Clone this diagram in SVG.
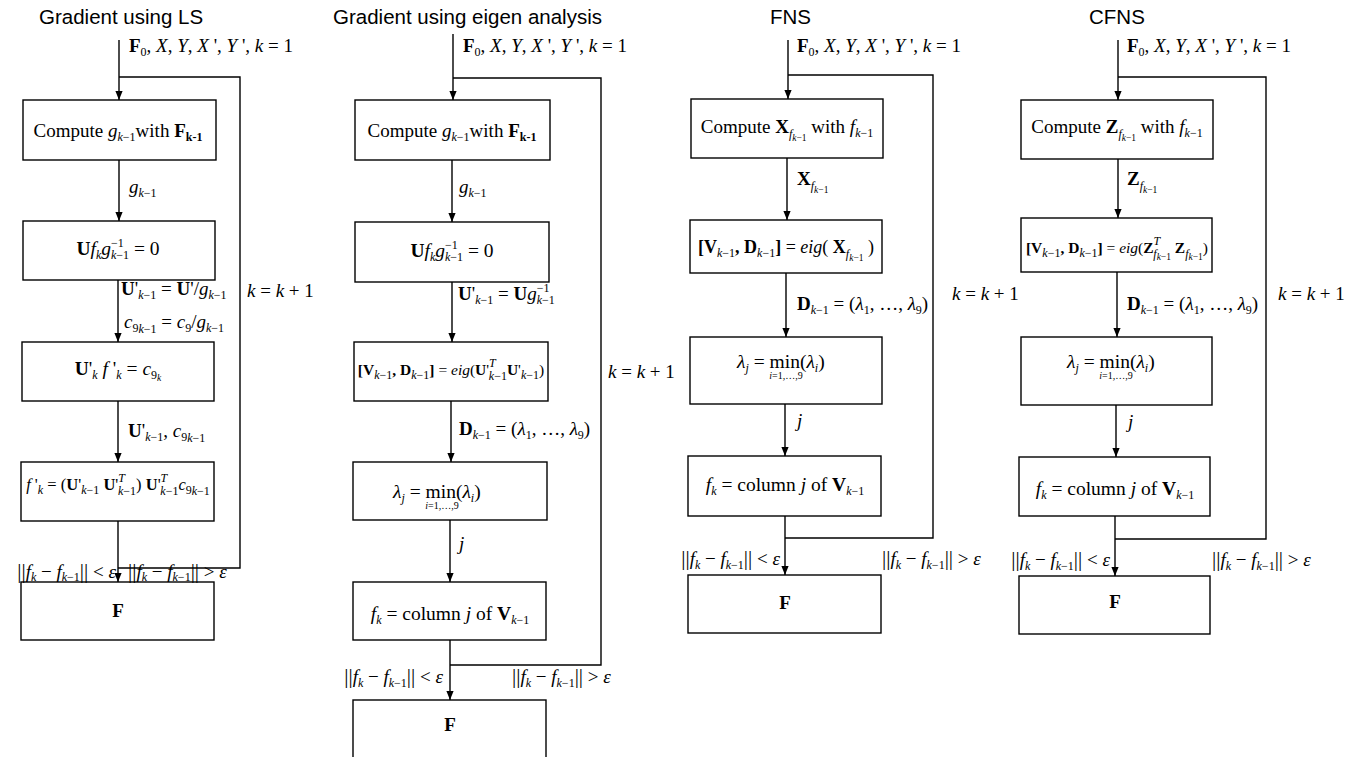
<svg xmlns="http://www.w3.org/2000/svg" width="1354" height="757" viewBox="0 0 1354 757">
<style>
.t{font-family:"Liberation Serif","DejaVu Serif",serif;font-size:19px;fill:#000}
.c{font-size:19.5px}
.m{font-size:16.5px}
.m2{font-size:15.5px}
.m3{font-size:18px}
.h{font-family:"Liberation Sans",Arial,sans-serif;font-size:20.5px;fill:#000}
.i{font-style:italic}
.b{font-weight:bold}
.s{font-size:12px}
.ss{font-size:9.5px}
.xs{font-size:10px}
.bar{font-size:21px}
.box{fill:#fff;stroke:#000;stroke-width:1.4}
.ln{fill:none;stroke:#000;stroke-width:1.4}
</style>
<defs>
<marker id="ah" viewBox="0 0 10 10" refX="10" refY="5" markerWidth="9" markerHeight="9" markerUnits="userSpaceOnUse" orient="auto"><path d="M0,1 L10,5 L0,9 z" fill="#000"/></marker>
</defs>
<rect width="1354" height="757" fill="#fff"/>

<g id="titles">
<text class="h" x="39" y="24">Gradient using LS</text>
<text class="h" x="333" y="24">Gradient using eigen analysis</text>
<text class="h" x="770" y="24">FNS</text>
<text class="h" x="1089" y="24">CFNS</text>
</g>

<g id="connectors">
<path class="ln" d="M119,40 V100" marker-end="url(#ah)"/>
<path class="ln" d="M119,160 V221" marker-end="url(#ah)"/>
<path class="ln" d="M118,280 V342" marker-end="url(#ah)"/>
<path class="ln" d="M118,401 V462" marker-end="url(#ah)"/>
<path class="ln" d="M118,521 V582" marker-end="url(#ah)"/>
<path class="ln" d="M118,568 H240 V77 H119"/>

<path class="ln" d="M453,34 V100" marker-end="url(#ah)"/>
<path class="ln" d="M452,160 V222" marker-end="url(#ah)"/>
<path class="ln" d="M452,282 V342" marker-end="url(#ah)"/>
<path class="ln" d="M451,401 V462" marker-end="url(#ah)"/>
<path class="ln" d="M450,520 V582" marker-end="url(#ah)"/>
<path class="ln" d="M450,640 V700" marker-end="url(#ah)"/>
<path class="ln" d="M450,665 H601 V78 H453"/>

<path class="ln" d="M788,40 V99" marker-end="url(#ah)"/>
<path class="ln" d="M787,158 V220" marker-end="url(#ah)"/>
<path class="ln" d="M786,273 V337" marker-end="url(#ah)"/>
<path class="ln" d="M785,404 V456" marker-end="url(#ah)"/>
<path class="ln" d="M785,516 V575" marker-end="url(#ah)"/>
<path class="ln" d="M785,538 H933 V75 H788"/>

<path class="ln" d="M1118,40 V100" marker-end="url(#ah)"/>
<path class="ln" d="M1118,159 V218" marker-end="url(#ah)"/>
<path class="ln" d="M1117,272 V337" marker-end="url(#ah)"/>
<path class="ln" d="M1116,405 V457" marker-end="url(#ah)"/>
<path class="ln" d="M1115,516 V576" marker-end="url(#ah)"/>
<path class="ln" d="M1115,539 H1266 V77 H1118"/>
</g>

<g id="ls-compute">
<rect class="box" x="23" y="100" width="193" height="60"/>
<text class="t" x="118" y="137" text-anchor="middle">Compute <tspan class="i">g</tspan><tspan class="s" dy="4"><tspan class="i">k</tspan>−1</tspan><tspan dy="-4">with </tspan><tspan class="b">F</tspan><tspan class="s b" dy="4">k-1</tspan></text>
</g>
<g id="ls-ufg">
<rect class="box" x="23" y="221" width="192" height="59"/>
<text class="t c" x="118" y="255" text-anchor="middle"><tspan class="b">U</tspan><tspan class="i">f</tspan><tspan class="s i" dy="4">k</tspan><tspan class="i" dy="-4">g</tspan><tspan class="s" dy="-8">−1</tspan><tspan class="s" dx="-12.8" dy="12"><tspan class="i">k</tspan>−1</tspan><tspan dy="-4"> = 0</tspan></text>
</g>
<g id="ls-uf">
<rect class="box" x="22" y="342" width="192" height="59"/>
<text class="t c" x="118" y="375" text-anchor="middle"><tspan class="b">U</tspan>'<tspan class="s i" dy="4">k</tspan><tspan class="i" dy="-4"> f</tspan> '<tspan class="s i" dy="4">k</tspan><tspan dy="-4"> = </tspan><tspan class="i">c</tspan><tspan class="s" dy="4">9</tspan><tspan class="ss i" dy="2">k</tspan></text>
</g>
<g id="ls-solve">
<rect class="box" x="21" y="462" width="193" height="59"/>
<text class="t m" x="118" y="490" text-anchor="middle"><tspan class="i">f</tspan> '<tspan class="s i" dy="4">k</tspan><tspan dy="-4"> = (</tspan><tspan class="b">U</tspan>'<tspan class="s" dy="4"><tspan class="i">k</tspan>−1</tspan><tspan class="b" dy="-4"> U</tspan>'<tspan class="s i" dy="-8">T</tspan><tspan class="s" dx="-7" dy="13"><tspan class="i">k</tspan>−1</tspan><tspan dy="-5">) </tspan><tspan class="b">U</tspan>'<tspan class="s i" dy="-8">T</tspan><tspan class="s" dx="-7" dy="13"><tspan class="i">k</tspan>−1</tspan><tspan class="i" dy="-5">c</tspan><tspan class="s" dy="4">9</tspan><tspan class="s" dy="1"><tspan class="i">k</tspan>−1</tspan></text>
</g>
<g id="ls-F">
<rect class="box" x="21" y="582" width="193" height="58"/>
<text class="t b" x="118" y="617" text-anchor="middle">F</text>
</g>

<g id="eig-compute">
<rect class="box" x="355" y="100" width="195" height="60"/>
<text class="t" x="452" y="137" text-anchor="middle">Compute <tspan class="i">g</tspan><tspan class="s" dy="4"><tspan class="i">k</tspan>−1</tspan><tspan dy="-4">with </tspan><tspan class="b">F</tspan><tspan class="s b" dy="4">k-1</tspan></text>
</g>
<g id="eig-ufg">
<rect class="box" x="355" y="222" width="194" height="60"/>
<text class="t c" x="452" y="257" text-anchor="middle"><tspan class="b">U</tspan><tspan class="i">f</tspan><tspan class="s i" dy="4">k</tspan><tspan class="i" dy="-4">g</tspan><tspan class="s" dy="-8">−1</tspan><tspan class="s" dx="-12.8" dy="12"><tspan class="i">k</tspan>−1</tspan><tspan dy="-4"> = 0</tspan></text>
</g>
<g id="eig-eig">
<rect class="box" x="354" y="342" width="194" height="59"/>
<text class="t m2" x="451" y="375" text-anchor="middle"><tspan class="b">[V</tspan><tspan class="s" dy="4"><tspan class="i">k</tspan>−1</tspan><tspan class="b" dy="-4">, D</tspan><tspan class="s" dy="4"><tspan class="i">k</tspan>−1</tspan><tspan class="b" dy="-4">]</tspan> = <tspan class="i">eig</tspan>(<tspan class="b">U</tspan>'<tspan class="s i" dy="-8">T</tspan><tspan class="s" dx="-7" dy="13"><tspan class="i">k</tspan>−1</tspan><tspan class="b" dy="-5">U</tspan>'<tspan class="s" dy="4"><tspan class="i">k</tspan>−1</tspan><tspan dy="-4">)</tspan></text>
</g>
<g id="eig-min">
<rect class="box" x="353" y="462" width="194" height="58"/>
<text class="t c" x="393" y="498"><tspan class="i">λ</tspan><tspan class="s i" dy="4">j</tspan><tspan dy="-4"> = min(</tspan><tspan class="i">λ</tspan><tspan class="s i" dy="4">i</tspan><tspan dy="-4">)</tspan></text>
<text class="t xs" x="442" y="509" text-anchor="middle"><tspan class="i">i</tspan>=1,…,9</text>
</g>
<g id="eig-col">
<rect class="box" x="353" y="582" width="193" height="58"/>
<text class="t c" x="450" y="620" text-anchor="middle"><tspan class="i">f</tspan><tspan class="s i" dy="4">k</tspan><tspan dy="-4"> = column </tspan><tspan class="i">j</tspan> of <tspan class="b">V</tspan><tspan class="s" dy="4"><tspan class="i">k</tspan>−1</tspan></text>
</g>
<g id="eig-F">
<rect class="box" x="353" y="700" width="193" height="70"/>
<text class="t b" x="450" y="731" text-anchor="middle">F</text>
</g>

<g id="fns-compute">
<rect class="box" x="691" y="99" width="192" height="59"/>
<text class="t" x="787" y="133" text-anchor="middle">Compute <tspan class="b">X</tspan><tspan class="s i" dy="5">f</tspan><tspan class="ss" dy="3"><tspan class="i">k</tspan>−1</tspan><tspan dy="-8"> with </tspan><tspan class="i">f</tspan><tspan class="s" dy="4"><tspan class="i">k</tspan>−1</tspan></text>
</g>
<g id="fns-eig">
<rect class="box" x="690" y="220" width="192" height="53"/>
<text class="t m3" x="786" y="253" text-anchor="middle"><tspan class="b">[V</tspan><tspan class="s" dy="4"><tspan class="i">k</tspan>−1</tspan><tspan class="b" dy="-4">, D</tspan><tspan class="s" dy="4"><tspan class="i">k</tspan>−1</tspan><tspan class="b" dy="-4">]</tspan> = <tspan class="i">eig</tspan>( <tspan class="b">X</tspan><tspan class="s i" dy="5">f</tspan><tspan class="ss" dy="3"><tspan class="i">k</tspan>−1</tspan><tspan dy="-8"> )</tspan></text>
</g>
<g id="fns-min">
<rect class="box" x="690" y="337" width="192" height="67"/>
<text class="t c" x="737" y="368"><tspan class="i">λ</tspan><tspan class="s i" dy="4">j</tspan><tspan dy="-4"> = min(</tspan><tspan class="i">λ</tspan><tspan class="s i" dy="4">i</tspan><tspan dy="-4">)</tspan></text>
<text class="t xs" x="786" y="379" text-anchor="middle"><tspan class="i">i</tspan>=1,…,9</text>
</g>
<g id="fns-col">
<rect class="box" x="688" y="456" width="193" height="60"/>
<text class="t c" x="785" y="491" text-anchor="middle"><tspan class="i">f</tspan><tspan class="s i" dy="4">k</tspan><tspan dy="-4"> = column </tspan><tspan class="i">j</tspan> of <tspan class="b">V</tspan><tspan class="s" dy="4"><tspan class="i">k</tspan>−1</tspan></text>
</g>
<g id="fns-F">
<rect class="box" x="688" y="575" width="193" height="58"/>
<text class="t b" x="785" y="609" text-anchor="middle">F</text>
</g>

<g id="cfns-compute">
<rect class="box" x="1021" y="100" width="192" height="59"/>
<text class="t" x="1117" y="133" text-anchor="middle">Compute <tspan class="b">Z</tspan><tspan class="s i" dy="5">f</tspan><tspan class="ss" dy="3"><tspan class="i">k</tspan>−1</tspan><tspan dy="-8"> with </tspan><tspan class="i">f</tspan><tspan class="s" dy="4"><tspan class="i">k</tspan>−1</tspan></text>
</g>
<g id="cfns-eig">
<rect class="box" x="1021" y="218" width="191" height="54"/>
<text class="t m2" x="1117" y="253" text-anchor="middle"><tspan class="b">[V</tspan><tspan class="s" dy="4"><tspan class="i">k</tspan>−1</tspan><tspan class="b" dy="-4">, D</tspan><tspan class="s" dy="4"><tspan class="i">k</tspan>−1</tspan><tspan class="b" dy="-4">]</tspan> = <tspan class="i">eig</tspan>(<tspan class="b">Z</tspan><tspan class="s i" dy="-8">T</tspan><tspan class="s i" dx="-7" dy="13">f</tspan><tspan class="ss" dy="2"><tspan class="i">k</tspan>−1</tspan><tspan class="b" dy="-7"> Z</tspan><tspan class="s i" dy="5">f</tspan><tspan class="ss" dy="2"><tspan class="i">k</tspan>−1</tspan><tspan dy="-7">)</tspan></text>
</g>
<g id="cfns-min">
<rect class="box" x="1021" y="337" width="191" height="68"/>
<text class="t c" x="1067" y="368"><tspan class="i">λ</tspan><tspan class="s i" dy="4">j</tspan><tspan dy="-4"> = min(</tspan><tspan class="i">λ</tspan><tspan class="s i" dy="4">i</tspan><tspan dy="-4">)</tspan></text>
<text class="t xs" x="1116" y="379" text-anchor="middle"><tspan class="i">i</tspan>=1,…,9</text>
</g>
<g id="cfns-col">
<rect class="box" x="1019" y="457" width="191" height="59"/>
<text class="t c" x="1115" y="495" text-anchor="middle"><tspan class="i">f</tspan><tspan class="s i" dy="4">k</tspan><tspan dy="-4"> = column </tspan><tspan class="i">j</tspan> of <tspan class="b">V</tspan><tspan class="s" dy="4"><tspan class="i">k</tspan>−1</tspan></text>
</g>
<g id="cfns-F">
<rect class="box" x="1019" y="576" width="191" height="58"/>
<text class="t b" x="1115" y="608" text-anchor="middle">F</text>
</g>

<g id="labels">
<text class="t" x="129" y="52"><tspan class="b">F</tspan><tspan class="s" dy="4">0</tspan><tspan dy="-4">, </tspan><tspan class="i">X</tspan>, <tspan class="i">Y</tspan>, <tspan class="i">X</tspan> ', <tspan class="i">Y</tspan> ', <tspan class="i">k</tspan> = 1</text>
<text class="t" x="463" y="52"><tspan class="b">F</tspan><tspan class="s" dy="4">0</tspan><tspan dy="-4">, </tspan><tspan class="i">X</tspan>, <tspan class="i">Y</tspan>, <tspan class="i">X</tspan> ', <tspan class="i">Y</tspan> ', <tspan class="i">k</tspan> = 1</text>
<text class="t" x="797" y="52"><tspan class="b">F</tspan><tspan class="s" dy="4">0</tspan><tspan dy="-4">, </tspan><tspan class="i">X</tspan>, <tspan class="i">Y</tspan>, <tspan class="i">X</tspan> ', <tspan class="i">Y</tspan> ', <tspan class="i">k</tspan> = 1</text>
<text class="t" x="1127" y="52"><tspan class="b">F</tspan><tspan class="s" dy="4">0</tspan><tspan dy="-4">, </tspan><tspan class="i">X</tspan>, <tspan class="i">Y</tspan>, <tspan class="i">X</tspan> ', <tspan class="i">Y</tspan> ', <tspan class="i">k</tspan> = 1</text>

<text class="t" x="129" y="193"><tspan class="i">g</tspan><tspan class="s" dy="4"><tspan class="i">k</tspan>−1</tspan></text>
<text class="t" x="121" y="295"><tspan class="b">U</tspan>'<tspan class="s" dy="4"><tspan class="i">k</tspan>−1</tspan><tspan dy="-4"> = </tspan><tspan class="b">U</tspan>'/<tspan class="i">g</tspan><tspan class="s" dy="4"><tspan class="i">k</tspan>−1</tspan></text>
<text class="t" x="124" y="328"><tspan class="i">c</tspan><tspan class="s" dy="4">9</tspan><tspan class="s" dy="1"><tspan class="i">k</tspan>−1</tspan><tspan dy="-5"> = </tspan><tspan class="i">c</tspan><tspan class="s" dy="4">9</tspan><tspan dy="-4">/</tspan><tspan class="i">g</tspan><tspan class="s" dy="4"><tspan class="i">k</tspan>−1</tspan></text>
<text class="t" x="247" y="297"><tspan class="i">k</tspan> = <tspan class="i">k</tspan> + 1</text>
<text class="t" x="128" y="437"><tspan class="b">U</tspan>'<tspan class="s" dy="4"><tspan class="i">k</tspan>−1</tspan><tspan dy="-4">, </tspan><tspan class="i">c</tspan><tspan class="s" dy="4">9</tspan><tspan class="s" dy="1"><tspan class="i">k</tspan>−1</tspan></text>
<text class="t" x="116" y="578" text-anchor="end"><tspan class="bar">||</tspan><tspan class="i">f</tspan><tspan class="s i" dy="3">k</tspan><tspan dy="-3"> − </tspan><tspan class="i">f</tspan><tspan class="s" dy="3"><tspan class="i">k</tspan>−1</tspan><tspan class="bar" dy="-3">||</tspan> &lt; <tspan class="i">ε</tspan></text>
<text class="t" x="128" y="578"><tspan class="bar">||</tspan><tspan class="i">f</tspan><tspan class="s i" dy="3">k</tspan><tspan dy="-3"> − </tspan><tspan class="i">f</tspan><tspan class="s" dy="3"><tspan class="i">k</tspan>−1</tspan><tspan class="bar" dy="-3">||</tspan> &gt; <tspan class="i">ε</tspan></text>

<text class="t" x="459" y="193"><tspan class="i">g</tspan><tspan class="s" dy="4"><tspan class="i">k</tspan>−1</tspan></text>
<text class="t" x="458" y="300"><tspan class="b">U</tspan>'<tspan class="s" dy="4"><tspan class="i">k</tspan>−1</tspan><tspan dy="-4"> = </tspan><tspan class="b">U</tspan><tspan class="i">g</tspan><tspan class="s" dy="-8">−1</tspan><tspan class="s" dx="-12.8" dy="12"><tspan class="i">k</tspan>−1</tspan></text>
<text class="t" x="608" y="378"><tspan class="i">k</tspan> = <tspan class="i">k</tspan> + 1</text>
<text class="t" x="459" y="435"><tspan class="b">D</tspan><tspan class="s" dy="4"><tspan class="i">k</tspan>−1</tspan><tspan dy="-4"> = (</tspan><tspan class="i">λ</tspan><tspan class="s" dy="4">1</tspan><tspan dy="-4">, …, </tspan><tspan class="i">λ</tspan><tspan class="s" dy="4">9</tspan><tspan dy="-4">)</tspan></text>
<text class="t i" x="459" y="550">j</text>
<text class="t" x="443" y="683" text-anchor="end"><tspan class="bar">||</tspan><tspan class="i">f</tspan><tspan class="s i" dy="4">k</tspan><tspan dy="-4"> − </tspan><tspan class="i">f</tspan><tspan class="s" dy="4"><tspan class="i">k</tspan>−1</tspan><tspan class="bar" dy="-4">||</tspan> &lt; <tspan class="i">ε</tspan></text>
<text class="t" x="512" y="683"><tspan class="bar">||</tspan><tspan class="i">f</tspan><tspan class="s i" dy="4">k</tspan><tspan dy="-4"> − </tspan><tspan class="i">f</tspan><tspan class="s" dy="4"><tspan class="i">k</tspan>−1</tspan><tspan class="bar" dy="-4">||</tspan> &gt; <tspan class="i">ε</tspan></text>

<text class="t" x="797" y="185"><tspan class="b">X</tspan><tspan class="s i" dy="5">f</tspan><tspan class="ss" dy="3"><tspan class="i">k</tspan>−1</tspan></text>
<text class="t" x="797" y="310"><tspan class="b">D</tspan><tspan class="s" dy="4"><tspan class="i">k</tspan>−1</tspan><tspan dy="-4"> = (</tspan><tspan class="i">λ</tspan><tspan class="s" dy="4">1</tspan><tspan dy="-4">, …, </tspan><tspan class="i">λ</tspan><tspan class="s" dy="4">9</tspan><tspan dy="-4">)</tspan></text>
<text class="t" x="952" y="300"><tspan class="i">k</tspan> = <tspan class="i">k</tspan> + 1</text>
<text class="t i" x="797" y="427">j</text>
<text class="t" x="780" y="565" text-anchor="end"><tspan class="bar">||</tspan><tspan class="i">f</tspan><tspan class="s i" dy="4">k</tspan><tspan dy="-4"> − </tspan><tspan class="i">f</tspan><tspan class="s" dy="4"><tspan class="i">k</tspan>−1</tspan><tspan class="bar" dy="-4">||</tspan> &lt; <tspan class="i">ε</tspan></text>
<text class="t" x="882" y="565"><tspan class="bar">||</tspan><tspan class="i">f</tspan><tspan class="s i" dy="4">k</tspan><tspan dy="-4"> − </tspan><tspan class="i">f</tspan><tspan class="s" dy="4"><tspan class="i">k</tspan>−1</tspan><tspan class="bar" dy="-4">||</tspan> &gt; <tspan class="i">ε</tspan></text>

<text class="t" x="1127" y="185"><tspan class="b">Z</tspan><tspan class="s i" dy="5">f</tspan><tspan class="ss" dy="3"><tspan class="i">k</tspan>−1</tspan></text>
<text class="t" x="1127" y="310"><tspan class="b">D</tspan><tspan class="s" dy="4"><tspan class="i">k</tspan>−1</tspan><tspan dy="-4"> = (</tspan><tspan class="i">λ</tspan><tspan class="s" dy="4">1</tspan><tspan dy="-4">, …, </tspan><tspan class="i">λ</tspan><tspan class="s" dy="4">9</tspan><tspan dy="-4">)</tspan></text>
<text class="t" x="1278" y="300"><tspan class="i">k</tspan> = <tspan class="i">k</tspan> + 1</text>
<text class="t i" x="1128" y="428">j</text>
<text class="t" x="1110" y="566" text-anchor="end"><tspan class="bar">||</tspan><tspan class="i">f</tspan><tspan class="s i" dy="4">k</tspan><tspan dy="-4"> − </tspan><tspan class="i">f</tspan><tspan class="s" dy="4"><tspan class="i">k</tspan>−1</tspan><tspan class="bar" dy="-4">||</tspan> &lt; <tspan class="i">ε</tspan></text>
<text class="t" x="1212" y="566"><tspan class="bar">||</tspan><tspan class="i">f</tspan><tspan class="s i" dy="4">k</tspan><tspan dy="-4"> − </tspan><tspan class="i">f</tspan><tspan class="s" dy="4"><tspan class="i">k</tspan>−1</tspan><tspan class="bar" dy="-4">||</tspan> &gt; <tspan class="i">ε</tspan></text>
</g>
</svg>
